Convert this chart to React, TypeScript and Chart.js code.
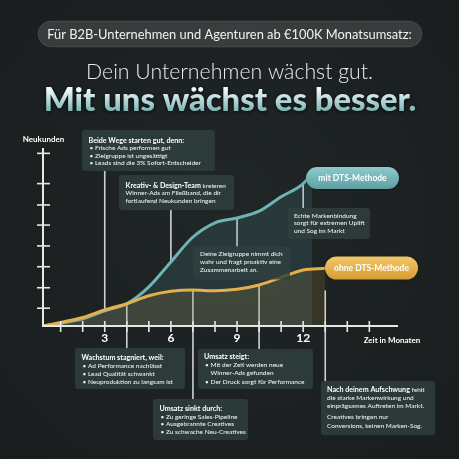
import { useEffect, useRef } from "react";
import { Chart, registerables } from "chart.js";
Chart.register(...registerables);

// ---- data ----
const monthsWith = [0.2, 1, 2, 3, 4, 5, 6, 7, 8, 9, 10, 11, 12, 12.4];
const valuesWith = [0, 1.5, 4, 8.5, 12.5, 22, 36, 50, 58, 60.7, 64.5, 72.6, 80, 86];
const monthsWithout = [0.2, 1, 2, 3, 4, 5, 6, 7, 8, 9, 10, 11, 12, 13];
const valuesWithout = [0, 2, 4.8, 9, 12.5, 17, 19.5, 20.2, 19.8, 20.6, 23, 27.3, 31.5, 32.4];
const xTickLabels = [3, 6, 9, 12];
const minorTickMonths = [1, 2, 3, 4, 5, 6, 7, 8, 9, 10, 11, 12, 13, 14, 15];
const yTickValues = [10, 21.5, 33.3, 45, 56.7, 68, 80, 97];
const seriesLabels = ["mit DTS-Methode", "ohne DTS-Methode"];
const yAxisTitle = "Neukunden";
const xAxisTitle = "Zeit in Monaten";
const headerPill = "Für B2B-Unternehmen und Agenturen ab €100K Monatsumsatz:";
const headline1 = "Dein Unternehmen wächst gut.";
const headline2 = "Mit uns wächst es besser.";

const FONT = "Lato, 'Noto Sans', sans-serif";

function App() {
  const ref = useRef<HTMLCanvasElement | null>(null);
  useEffect(() => {
    const canvas = ref.current!;

    function fitSize(ctx: CanvasRenderingContext2D, text: string, weight: string, target: number) {
      ctx.font = `${weight} 100px ${FONT}`;
      const w = ctx.measureText(text).width;
      return (100 * target) / w;
    }
    function fitText(ctx: CanvasRenderingContext2D, text: string, weight: string, target: number) {
      ctx.font = `${weight} ${fitSize(ctx, text, weight, target)}px ${FONT}`;
    }

    const deco = {
      id: "deco",
      beforeDraw(chart: any) {
        const ctx = chart.ctx as CanvasRenderingContext2D;
        const W = chart.width, H = chart.height;
        ctx.save();
        const bg = ctx.createRadialGradient(W * 0.5, H * 0.45, 20, W * 0.5, H * 0.5, W * 0.8);
        bg.addColorStop(0, "#202526");
        bg.addColorStop(1, "#181c1d");
        ctx.fillStyle = bg;
        ctx.fillRect(0, 0, W, H);

        // header pill
        ctx.beginPath();
        ctx.roundRect(38, 21, 384, 26, 13);
        ctx.fillStyle = "rgba(255,255,255,0.13)";
        ctx.fill();
        ctx.strokeStyle = "rgba(255,255,255,0.10)";
        ctx.lineWidth = 1;
        ctx.stroke();
        ctx.fillStyle = "#f2f2f2";
        ctx.textAlign = "center";
        ctx.textBaseline = "middle";
        fitText(ctx, headerPill, "400", 365);
        ctx.fillText(headerPill, 229.5, 34.5);

        // headlines
        ctx.textBaseline = "alphabetic";
        ctx.fillStyle = "#e8ecec";
        fitText(ctx, headline1, "300", 287);
        ctx.fillText(headline1, 229.5, 79);
        fitText(ctx, headline2, "900", 373);
        const g = ctx.createLinearGradient(0, 89, 0, 112);
        g.addColorStop(0, "#f0fbfa");
        g.addColorStop(1, "#77b1b2");
        ctx.shadowColor = "rgba(0,0,0,0.7)";
        ctx.shadowBlur = 4;
        ctx.shadowOffsetY = 1;
        ctx.fillStyle = g;
        ctx.fillText(headline2, 230, 111);
        ctx.restore();

        // divider lines (under curves)
        const xs = chart.scales.x, ys = chart.scales.y;
        const px = (m: number) => xs.getPixelForValue(m);
        const py = (v: number) => ys.getPixelForValue(v);
        const tealAt = (m: number) => py(valuesWith[monthsWith.indexOf(m)]);
        const orAt = (m: number) => py(valuesWithout[monthsWithout.indexOf(m)]);
        ctx.save();
        ctx.strokeStyle = "rgba(225,228,228,0.9)";
        ctx.lineWidth = 1.6;
        const seg = (x: number, y1: number, y2: number) => {
          ctx.beginPath();
          ctx.moveTo(x, y1);
          ctx.lineTo(x, y2);
          ctx.stroke();
        };
        seg(px(3), 171, tealAt(3));
        seg(px(6), 210, tealAt(6));
        seg(px(9), tealAt(9), 246.5);
        seg(px(12), tealAt(12), 208);
        seg(px(4), orAt(4), 348);
        seg(px(7), orAt(7), 399);
        seg(px(10), orAt(10), 349);
        seg(px(13), py(20), 381);
        ctx.restore();
      },
      afterDatasetsDraw(chart: any) {
        const ctx = chart.ctx as CanvasRenderingContext2D;
        const xs = chart.scales.x, ys = chart.scales.y;
        const px = (m: number) => xs.getPixelForValue(m);
        const py = (v: number) => ys.getPixelForValue(v);
        const x0 = px(0.2), y0 = py(0);
        ctx.save();
        // axes
        ctx.strokeStyle = "#e6e8e8";
        ctx.lineWidth = 2;
        ctx.beginPath();
        ctx.moveTo(x0, py(100));
        ctx.lineTo(x0, y0);
        ctx.lineTo(px(16.3), y0);
        ctx.stroke();
        ctx.lineWidth = 1.6;
        for (const m of minorTickMonths) {
          ctx.beginPath();
          ctx.moveTo(px(m), y0 - 5);
          ctx.lineTo(px(m), y0 + 6);
          ctx.stroke();
        }
        for (const v of yTickValues) {
          ctx.beginPath();
          ctx.moveTo(x0 - 6, py(v));
          ctx.lineTo(x0 + 7, py(v));
          ctx.stroke();
        }
        // axis labels
        ctx.fillStyle = "#ffffff";
        ctx.textAlign = "center";
        ctx.textBaseline = "middle";
        ctx.font = `700 12px ${FONT}`;
        for (const t of xTickLabels) ctx.fillText(String(t), px(t), 338);
        ctx.font = `700 8px ${FONT}`;
        ctx.fillText(xAxisTitle, 392, 340);
        ctx.fillText(yAxisTitle, 43.5, 139.5);

        // text sizes fitted to reference widths
        const T = fitSize(ctx, "Beide Wege starten gut, denn:", "700", 96);
        const R = fitSize(ctx, "Leads sind die 3% Sofort-Entscheider", "500", 106);

        // boxes
        const box = (x: number, y: number, w: number, h: number) => {
          ctx.beginPath();
          ctx.roundRect(x, y, w, h, 3);
          ctx.fillStyle = "rgba(48,64,63,0.82)";
          ctx.fill();
        };
        const line = (parts: [string, boolean][], x: number, y: number) => {
          ctx.textAlign = "left";
          ctx.textBaseline = "middle";
          let cx = x;
          for (const [t, b] of parts) {
            ctx.font = `${b ? 700 : 500} ${b ? T : R}px ${FONT}`;
            ctx.fillStyle = b ? "#ffffff" : "#eceff0";
            ctx.fillText(t, cx, y);
            cx += ctx.measureText(t).width;
          }
        };
        const bullet = (t: string, x: number, y: number, dot = true) => {
          ctx.font = `500 ${R}px ${FONT}`;
          ctx.fillStyle = "#eceff0";
          ctx.textAlign = "left";
          ctx.textBaseline = "middle";
          if (dot) ctx.fillText("•", x, y);
          ctx.fillText(t, x + 5.5, y);
        };

        box(82, 130, 133, 41);
        line([["Beide Wege starten gut, denn:", true]], 88.5, 140.5);
        bullet("Frische Ads performen gut", 89.5, 148);
        bullet("Zielgruppe ist ungesättigt", 89.5, 155.7);
        bullet("Leads sind die 3% Sofort-Entscheider", 89.5, 163);

        box(119, 175, 115, 35);
        line([["Kreativ- & Design-Team", true], [" kreieren", false]], 125.5, 185.7);
        line([["Winner-Ads am Fließband, die dir", false]], 125.5, 193.3);
        line([["fortlaufend Neukunden bringen", false]], 125.5, 201);

        box(288, 208, 82, 31);
        line([["Echte Markenbindung", false]], 294, 216);
        line([["sorgt für extremen Uplift", false]], 294, 223.3);
        line([["und Sog im Markt", false]], 294, 230.7);

        box(193, 246.5, 97, 33);
        line([["Deine Zielgruppe nimmt dich", false]], 200, 254);
        line([["wahr und fragt proaktiv eine", false]], 200, 261.5);
        line([["Zusammenarbeit an.", false]], 200, 269.5);

        box(75, 348, 110, 41);
        line([["Wachstum stagniert, weil:", true]], 81.5, 357.5);
        bullet("Ad Performance nachlässt", 82.5, 365.7);
        bullet("Lead Qualität schwankt", 82.5, 374);
        bullet("Neuproduktion zu langsam ist", 82.5, 382);

        box(198, 349, 115, 40);
        line([["Umsatz steigt:", true]], 204, 356.5);
        bullet("Mit der Zeit werden neue", 205, 365);
        bullet("Winner-Ads gefunden", 205, 373.3, false);
        bullet("Der Druck sorgt für Performance", 205, 382);

        box(153, 399, 95, 41);
        line([["Umsatz sinkt durch:", true]], 159.5, 408.3);
        bullet("Zu geringe Sales-Pipeline", 160.5, 416.7);
        bullet("Ausgebrannte Creatives", 160.5, 424.3);
        bullet("Zu schwache Neu-Creatives", 160.5, 431.7);

        box(321, 381, 114, 54);
        line([["Nach deinem Aufschwung", true], [" fehlt", false]], 327, 390);
        line([["die starke Markenwirkung und", false]], 327, 398.3);
        line([["einprägsames Auftreten im Markt.", false]], 327, 405.7);
        line([["Creatives bringen nur", false]], 327, 417.3);
        line([["Conversions, keinen Marken-Sog.", false]], 327, 425.7);

        // legend pills
        const pill = (x: number, y: number, w: number, h: number, c1: string, c2: string, t: string) => {
          const g = ctx.createLinearGradient(0, y, 0, y + h);
          g.addColorStop(0, c1);
          g.addColorStop(1, c2);
          ctx.beginPath();
          ctx.roundRect(x, y, w, h, h / 2);
          ctx.fillStyle = g;
          ctx.shadowColor = "rgba(0,0,0,0.4)";
          ctx.shadowBlur = 3;
          ctx.fill();
          ctx.shadowBlur = 0;
          ctx.shadowColor = "transparent";
          ctx.fillStyle = "#ffffff";
          ctx.textAlign = "center";
          ctx.textBaseline = "middle";
          ctx.font = `700 8.5px ${FONT}`;
          ctx.fillText(t, x + w / 2, y + h / 2 + 0.5);
        };
        pill(306, 167, 93, 22, "#8ccbcc", "#5f9fa2", seriesLabels[0]);
        pill(325, 256.5, 93, 23, "#f4c867", "#d79c36", seriesLabels[1]);
        ctx.restore();
      },
    };

    const chart = new Chart(canvas, {
      type: "line",
      data: {
        datasets: [
          {
            label: seriesLabels[1],
            data: monthsWithout.map((m, i) => ({ x: m, y: valuesWithout[i] })),
            borderColor: "#e3b04c",
            backgroundColor: "rgba(190,150,70,0.16)",
            borderWidth: 3,
            fill: "origin",
            pointRadius: 0,
            cubicInterpolationMode: "monotone",
          },
          {
            label: seriesLabels[0],
            data: monthsWith.map((m, i) => ({ x: m, y: valuesWith[i] })),
            borderColor: "#6fb3b5",
            backgroundColor: "rgba(90,160,165,0.16)",
            borderWidth: 3,
            fill: "origin",
            pointRadius: 0,
            cubicInterpolationMode: "monotone",
          },
        ],
      },
      options: {
        animation: false,
        responsive: false,
        devicePixelRatio: 1,
        layout: { padding: { left: 43, right: 61, top: 148, bottom: 133 } },
        plugins: { legend: { display: false }, tooltip: { enabled: false } },
        scales: {
          x: { type: "linear", min: 0.2, max: 16.3, display: false },
          y: { type: "linear", min: 0, max: 100, display: false },
        },
      },
      plugins: [deco],
    } as any);
    return () => chart.destroy();
  }, []);
  return (
    <div style={{ position: "fixed", left: 0, top: 0, width: 459, height: 459 }}>
      <canvas ref={ref} width={459} height={459} style={{ width: 459, height: 459, display: "block" }} />
    </div>
  );
}

export default App;
